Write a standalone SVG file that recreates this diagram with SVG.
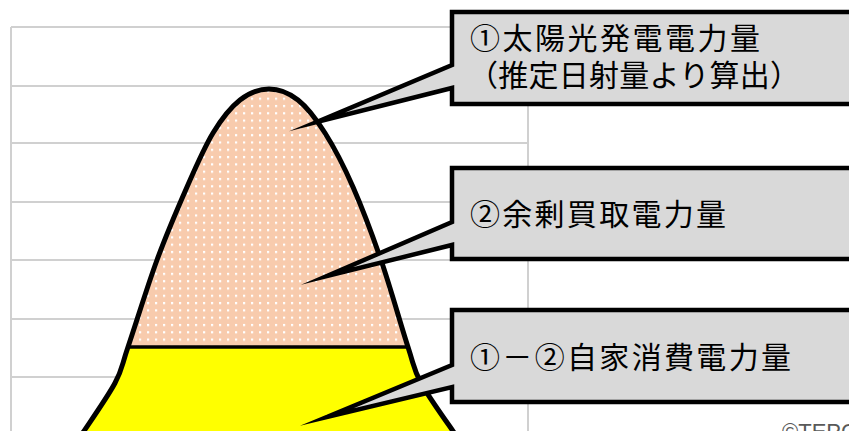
<svg xmlns="http://www.w3.org/2000/svg" width="849" height="431" viewBox="0 0 849 431">
  <style>
    .grid { stroke: #d0d0d0; stroke-width: 2; fill: none; }
    .callout { fill: #d9d9d9; stroke: #000; stroke-width: 4.5; stroke-linejoin: miter; stroke-miterlimit: 20; }
    .label { font-family: "Noto Sans CJK JP", "Noto Sans", sans-serif; font-size: 30px; fill: #000; }
    .outline { fill: none; stroke: #000; stroke-width: 5; stroke-linejoin: round; stroke-linecap: round; }
  </style>
  <defs>
    <pattern id="dots" x="0" y="0" width="8" height="7.3" patternUnits="userSpaceOnUse">
      <rect width="8" height="7.3" fill="#f8cbad"/>
      <rect x="3" y="2.7" width="2.2" height="2.2" fill="#ffffff"/>
    </pattern>
    <path id="bellCurve" d="M82,434 C87.5,425.5 107.3,397.5 115,383 C122.7,368.5 121,367.5 128,347 C135,326.5 147.2,286.7 157,260 C166.8,233.3 177.7,208.2 187,187 C196.3,165.8 204.2,147.5 213,133 C221.8,118.5 230.7,107.3 240,100 C249.3,92.7 259.3,89 269,89 C278.7,89 288.7,92.7 298,100 C307.3,107.3 315.8,118.5 325,133 C334.2,147.5 343.7,165.8 353,187 C362.3,208.2 371.8,233.3 381,260 C390.2,286.7 401.3,326.5 408,347 C414.7,367.5 413.2,368.5 421,383 C428.8,397.5 449.3,425.5 455,434"/>
    <clipPath id="bellClip">
      <path d="M82,434 C87.5,425.5 107.3,397.5 115,383 C122.7,368.5 121,367.5 128,347 C135,326.5 147.2,286.7 157,260 C166.8,233.3 177.7,208.2 187,187 C196.3,165.8 204.2,147.5 213,133 C221.8,118.5 230.7,107.3 240,100 C249.3,92.7 259.3,89 269,89 C278.7,89 288.7,92.7 298,100 C307.3,107.3 315.8,118.5 325,133 C334.2,147.5 343.7,165.8 353,187 C362.3,208.2 371.8,233.3 381,260 C390.2,286.7 401.3,326.5 408,347 C414.7,367.5 413.2,368.5 421,383 C428.8,397.5 449.3,425.5 455,434 L455,445 L82,445 Z"/>
    </clipPath>
  </defs>

  <rect width="849" height="431" fill="#ffffff"/>

  <g id="chart-grid">
    <line class="grid" x1="11" y1="27" x2="528" y2="27" stroke="#d9d9d9"/>
    <line class="grid" x1="11" y1="86" x2="528" y2="86"/>
    <line class="grid" x1="11" y1="143" x2="528" y2="143"/>
    <line class="grid" x1="11" y1="202" x2="528" y2="202"/>
    <line class="grid" x1="11" y1="260" x2="528" y2="260"/>
    <line class="grid" x1="11" y1="319" x2="528" y2="319"/>
    <line class="grid" x1="11" y1="377" x2="528" y2="377"/>
    <line class="grid" x1="11" y1="27" x2="11" y2="431" stroke="#d9d9d9"/>
    <line class="grid" x1="528" y1="27" x2="528" y2="431" stroke="#d9d9d9"/>
  </g>

  <g id="bell">
    <g clip-path="url(#bellClip)">
      <rect id="surplus-area" x="60" y="80" width="420" height="267" fill="url(#dots)"/>
      <rect id="selfuse-area" x="60" y="347" width="420" height="100" fill="#ffff00"/>
    </g>
    <line x1="127" y1="347" x2="409" y2="347" stroke="#000" stroke-width="3.5"/>
    <use href="#bellCurve" class="outline"/>
  </g>

  <g id="connectors">
    <g id="callout-1">
      <path class="callout" d="M452,12 H870 V104 H452 V88 L317,122 L452,65 Z"/>
      <text class="label" x="470" y="49" textLength="290">①太陽光発電電力量</text>
      <text class="label" x="468" y="86" textLength="332">（推定日射量より算出）</text>
    </g>
    <g id="callout-2">
      <path class="callout" d="M452,168 H870 V259 H452 V245 L327,276 L452,222 Z"/>
      <text class="label" x="470" y="225" textLength="256">②余剰買取電力量</text>
    </g>
    <g id="callout-3">
      <path class="callout" d="M452,310 H870 V402 H452 V387 L327,417 L452,365 Z"/>
      <text class="label" x="470" y="368" textLength="321">①－②自家消費電力量</text>
    </g>
  </g>

  <text x="782" y="439" font-family="Liberation Sans, Arial, sans-serif" font-size="22" fill="#595959">©TEPCO</text>
</svg>
